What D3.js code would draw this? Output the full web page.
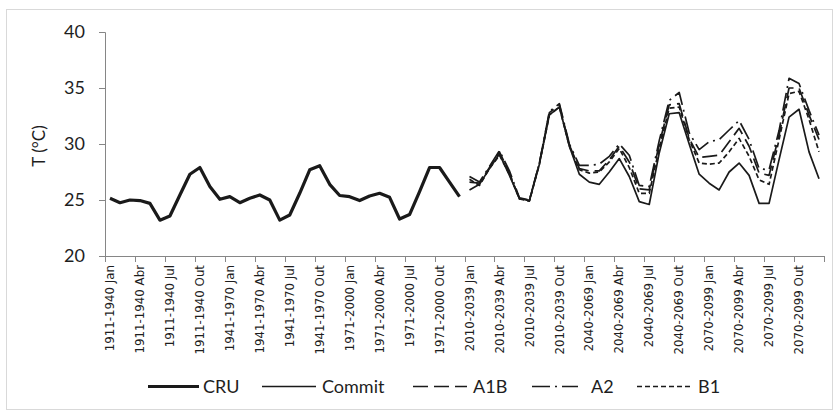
<!DOCTYPE html>
<html><head><meta charset="utf-8">
<script src="https://cdn.jsdelivr.net/npm/d3@7"></script>
<style>html,body{margin:0;padding:0;background:#fff;}svg{display:block;}</style>
</head><body>
<svg id="chart" width="839" height="414"></svg>
<script>
const periods = ["1911-1940","1941-1970","1971-2000","2010-2039","2040-2069","2070-2099"];
const months = ["Jan","Fev","Mar","Abr","Mai","Jun","Jul","Ago","Set","Out","Nov","Dez"];
const yTicks = [20,25,30,35,40];
const seriesNames = ["CRU","Commit","A1B","A2","B1"];

// CRU observed (1911-1940, 1941-1970, 1971-2000)
const cru = [25.15,24.76,25.0,24.95,24.7,23.2,23.57,25.45,27.3,27.9,26.2,25.06,
             25.3,24.76,25.15,25.45,25.0,23.2,23.66,25.6,27.7,28.06,26.4,25.4,
             25.3,24.95,25.36,25.6,25.24,23.3,23.7,25.75,27.9,27.9,26.6,25.3];
// Scenarios (2010-2039, 2040-2069, 2070-2099)
const commit = [25.9,26.4,27.8,29.1,27.2,25.15,24.95,28.2,32.6,33.3,29.8,27.3,
                26.6,26.4,27.5,28.7,27.1,24.85,24.6,29.2,32.7,32.8,30.0,27.3,
                26.5,25.9,27.5,28.3,27.2,24.7,24.7,28.6,32.4,33.1,29.3,26.9];
const a1b = [26.6,26.5,27.9,29.3,27.4,25.1,24.95,28.3,32.8,33.5,29.9,27.8,
             27.6,27.6,28.6,29.8,28.4,26.0,25.9,30.0,33.5,33.6,30.5,28.8,
             28.9,29.0,30.2,31.4,29.8,27.4,27.2,30.8,35.0,35.0,32.6,30.4];
const a2 = [27.1,26.6,28.0,29.4,27.6,25.2,25.0,28.3,32.9,33.6,30.0,28.1,
            28.1,28.2,28.9,30.0,29.0,26.3,26.2,30.3,33.9,34.6,31.0,29.5,
            30.2,30.4,31.25,32.1,30.4,27.8,27.7,31.2,35.86,35.4,33.0,30.8];
const b1 = [26.85,26.3,27.8,29.0,27.3,25.1,24.9,28.2,32.6,33.3,29.8,27.7,
            27.4,27.5,28.4,29.6,27.9,25.6,25.6,29.6,33.2,33.3,30.4,28.3,
            28.2,28.3,29.3,30.5,28.9,26.8,26.4,30.4,34.5,34.7,32.2,29.3];

const categories = [];
periods.forEach(p => months.forEach(m => categories.push(p + " " + m)));

const svg = d3.select("#chart");
svg.append("rect").attr("x",0).attr("y",0).attr("width",839).attr("height",414).attr("fill","#fff");
svg.append("rect").attr("x",6.5).attr("y",9.5).attr("width",826).attr("height",400)
   .attr("fill","none").attr("stroke","#d9d9d9").attr("stroke-width",1);

const plotL = 105, plotR = 824, plotT = 32, plotB = 256;
const x = d3.scaleBand().domain(categories).range([plotL, plotR]).padding(0);
const y = d3.scaleLinear().domain([20,40]).range([plotB, plotT]);
const cx = c => x(c) + x.bandwidth()/2;

const axisColor = "#868686";
const labelFont = "Lato, 'Open Sans', sans-serif";

// Y axis
const yAxis = svg.append("g").attr("transform",`translate(${plotL},0)`)
  .call(d3.axisLeft(y).tickValues(yTicks).tickSize(6).tickPadding(14).tickFormat(d3.format("d")));
yAxis.select(".domain").attr("stroke",axisColor);
yAxis.selectAll(".tick line").attr("stroke",axisColor);
yAxis.selectAll(".tick text").attr("fill","#1e1e1e").style("font-family",labelFont).style("font-size","18px");

// X axis
const xg = svg.append("g");
xg.append("line").attr("x1",plotL).attr("x2",plotR).attr("y1",plotB+0.5).attr("y2",plotB+0.5).attr("stroke",axisColor);
const tickIdx = d3.range(0, categories.length+1, 3);
xg.selectAll("line.tk").data(tickIdx).join("line").attr("class","tk")
  .attr("x1", i => Math.round(i < categories.length ? x(categories[i]) : plotR)+0.5)
  .attr("x2", i => Math.round(i < categories.length ? x(categories[i]) : plotR)+0.5)
  .attr("y1", plotB).attr("y2", plotB+6).attr("stroke",axisColor);
const labelCats = categories.filter((c,i) => i % 3 === 0);
xg.selectAll("text").data(labelCats).join("text")
  .attr("transform", c => `translate(${cx(c)},${plotB+9}) rotate(-90)`)
  .attr("text-anchor","end").attr("dy","0.35em")
  .style("font-family","'DejaVu Sans', Verdana, sans-serif").style("font-size","11.8px").attr("fill","#1e1e1e")
  .text(c => c);

// Y title
svg.append("text").attr("transform",`translate(45,146) rotate(-90)`).attr("text-anchor","middle")
  .style("font-family",labelFont).style("font-size","17px").attr("fill","#1e1e1e").text("T (°C)");

const styles = {
  CRU:    {w:3.2, dash:null},
  Commit: {w:1.7, dash:null},
  A1B:    {w:1.7, dash:"15,6"},
  A2:     {w:1.7, dash:"18,5,2,5"},
  B1:     {w:1.7, dash:"5,3"}
};
const line = d3.line().x(d => cx(d.c)).y(d => y(d.v));
const histCats = categories.slice(0,36), futCats = categories.slice(36);
const seriesData = [
  ["B1", b1, futCats], ["A2", a2, futCats], ["A1B", a1b, futCats], ["Commit", commit, futCats], ["CRU", cru, histCats]
];
seriesData.forEach(([name, vals, cats]) => {
  const st = styles[name];
  svg.append("path").datum(vals.map((v,i) => ({c:cats[i], v})))
    .attr("d", line).attr("fill","none").attr("stroke","#1a1a1a")
    .attr("stroke-width", st.w).attr("stroke-linejoin","round")
    .attr("stroke-dasharray", st.dash);
});

// Legend
const legend = [
  {n:"CRU", x1:148, x2:199, tx:203},
  {n:"Commit", x1:262, x2:316, tx:322},
  {n:"A1B", x1:413, x2:467, tx:473},
  {n:"A2", x1:532, x2:578, tx:591},
  {n:"B1", x1:637, x2:692, tx:698}
];
const lg = svg.append("g");
legend.forEach(l => {
  const st = styles[l.n];
  lg.append("line").attr("x1",l.x1).attr("x2",l.x2).attr("y1",386.5).attr("y2",386.5)
    .attr("stroke","#1a1a1a").attr("stroke-width",st.w).attr("stroke-dasharray",st.dash);
  lg.append("text").attr("x",l.tx).attr("y",393).style("font-family",labelFont).style("font-size","18px")
    .attr("fill","#1e1e1e").text(l.n);
});
</script>
</body></html>
